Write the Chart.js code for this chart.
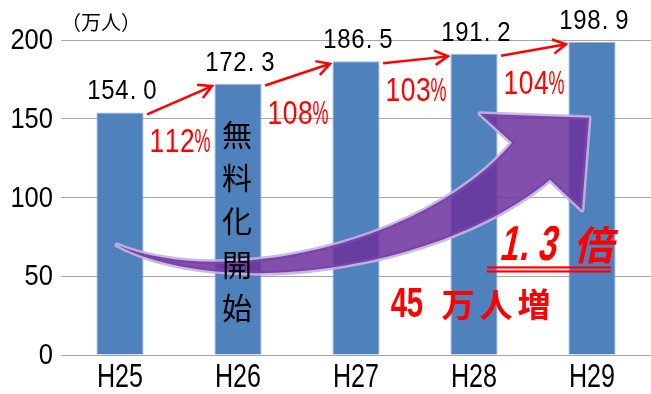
<!DOCTYPE html>
<html>
<head>
<meta charset="utf-8">
<script src="https://cdn.jsdelivr.net/npm/chart.js@4/dist/chart.umd.min.js"></script>
<style>
  html, body { margin: 0; padding: 0; background: #fff; }
  canvas { display: block; }
</style>
</head>
<body>
<canvas id="chart" width="651" height="394"></canvas>
<script>
const categories = ["H25", "H26", "H27", "H28", "H29"];
const visitors = [154.0, 172.3, 186.5, 191.2, 198.9];
const valueLabels = ["154.0", "172.3", "186.5", "191.2", "198.9"];
const growthLabels = ["112%", "108%", "103%", "104%"];
const unitLabel = "（万人）";
const freeStartLabel = "無料化開始";
const ratioLabel = "1.3 倍";
const increaseLabel = "45 万人増";

const LATIN = "'Liberation Sans', Arial, sans-serif";
const CJK = "'Noto Sans CJK JP', sans-serif";
const RED = "#ff0000";

// big curved arrow, in (category index, value) space
const SWOOSH = {
  tail: [-0.025, 69.8],
  upper: [[0.932, 41.2], [2.627, 73.0], [3.322, 134.7]],
  head: [[3.051, 153.2], [3.975, 150.6], [3.915, 92.1], [3.644, 111.2]],
  lower: [[2.712, 52.6], [0.847, 34.8]],
};

// the original uses a narrow gothic face; squeeze Liberation Sans to match
function drawScaled(ctx, text, x, y, font, sx, align, baseline) {
  ctx.save();
  ctx.font = font;
  ctx.fillStyle = "#000";
  ctx.textAlign = align;
  ctx.textBaseline = baseline;
  ctx.translate(x, y);
  ctx.scale(sx, 1);
  ctx.fillText(text, 0, 0);
  ctx.restore();
}

// draws text cell by cell so digits look like a fixed-pitch font
function drawCells(ctx, text, x0, baseline, o) {
  let x = x0;
  for (const ch of text) {
    const full = ch.charCodeAt(0) > 0x2000;
    const w = full ? o.full : o.cell;
    ctx.save();
    ctx.font = full ? o.cjkFont : o.font;
    const mw = ctx.measureText(ch).width;
    let s = full ? 1 : o.sx;
    if (!full && mw * s > w * 1.05) s = (w * 1.05) / mw;
    let cx = x + w / 2;
    if (ch === ".") cx = x + w * 0.3;
    ctx.translate(cx, baseline);
    if (o.skew) ctx.transform(1, 0, -o.skew, 1, 0, 0);
    ctx.scale(s, 1);
    ctx.fillStyle = o.color;
    ctx.textAlign = "center";
    ctx.textBaseline = "alphabetic";
    ctx.fillText(ch, 0, 0);
    ctx.restore();
    x += w;
  }
}

function drawArrow(ctx, x1, y1, x2, y2) {
  const a = Math.atan2(y2 - y1, x2 - x1);
  const len = 15, spread = 0.5;
  ctx.save();
  ctx.strokeStyle = RED;
  ctx.lineWidth = 2.5;
  ctx.beginPath();
  ctx.moveTo(x1, y1);
  ctx.lineTo(x2, y2);
  ctx.moveTo(x2 - len * Math.cos(a - spread), y2 - len * Math.sin(a - spread));
  ctx.lineTo(x2, y2);
  ctx.lineTo(x2 - len * Math.cos(a + spread), y2 - len * Math.sin(a + spread));
  ctx.stroke();
  ctx.restore();
}

const axisLabels = {
  id: "axisLabels",
  afterDraw(chart) {
    const { ctx, scales: { x, y } } = chart;
    for (const t of y.ticks) {
      drawScaled(ctx, String(t.value), y.right - 8, y.getPixelForValue(t.value) + 1,
        "29px " + LATIN, 0.88, "right", "middle");
    }
    categories.forEach((c, i) => {
      drawScaled(ctx, c, x.getPixelForValue(i), x.top + 32, "33.5px " + LATIN, 0.75, "center", "alphabetic");
    });
  },
};

const annotations = {
  id: "annotations",
  afterDatasetsDraw(chart) {
    const { ctx, scales: { x, y } } = chart;
    const P = (c, v) => [x.getPixelForValue(c), y.getPixelForValue(v)];

    // curved purple arrow
    const pts = (arr) => arr.map(p => P(p[0], p[1]));
    const t = P(...SWOOSH.tail);
    const up = pts(SWOOSH.upper);
    const hd = pts(SWOOSH.head);
    const lo = pts(SWOOSH.lower);
    ctx.save();
    ctx.beginPath();
    ctx.moveTo(t[0], t[1]);
    ctx.bezierCurveTo(up[0][0], up[0][1], up[1][0], up[1][1], up[2][0], up[2][1]);
    for (const p of hd) ctx.lineTo(p[0], p[1]);
    ctx.bezierCurveTo(lo[0][0], lo[0][1], lo[1][0], lo[1][1], t[0], t[1]);
    ctx.closePath();
    ctx.lineJoin = "round";
    ctx.strokeStyle = "rgba(196, 178, 226, 0.9)";
    ctx.lineWidth = 5;
    ctx.stroke();
    ctx.fillStyle = "rgba(108, 49, 158, 0.85)";
    ctx.fill();
    ctx.restore();

    // value labels above bars
    visitors.forEach((v, i) => {
      const cx = x.getPixelForValue(i) + 2;
      const by = y.getPixelForValue(v) - 13;
      drawCells(ctx, valueLabels[i], cx - 35, by, { cell: 14, sx: 0.84, font: "28.5px " + LATIN, color: "#000" });
    });

    // growth arrows + percentages
    growthLabels.forEach((lab, i) => {
      const [x1, y1] = P(i + 0.23, visitors[i] - 1.2);
      const [x2, y2] = P(i + 1 - 0.22, visitors[i + 1] - 1.6);
      drawArrow(ctx, x1, y1, x2, y2);
      drawCells(ctx, lab, x1 + 2, y1 + 38, { cell: 15.25, sx: 0.8, font: "33px " + LATIN, color: RED });
    });

    // unit label
    ctx.save();
    ctx.font = "20px " + CJK;
    ctx.fillStyle = "#000";
    ctx.textBaseline = "middle";
    ctx.textAlign = "left";
    ctx.fillText(unitLabel, x.left, y.top - 18);
    ctx.restore();

    // vertical label inside the H26 bar
    ctx.save();
    ctx.font = "30px " + CJK;
    ctx.fillStyle = "#000";
    ctx.textAlign = "center";
    ctx.textBaseline = "middle";
    const vx = x.getPixelForValue(1) - 1;
    const vy = y.getPixelForValue(140.1);
    [...freeStartLabel].forEach((ch, k) => ctx.fillText(ch, vx, vy + k * 43.3));
    ctx.restore();

    // 1.3 倍 with double underline
    const [rx, ry] = P(3.288, 60.1);
    drawCells(ctx, ratioLabel, rx - 9.5, ry, {
      cell: 19, full: 38, sx: 0.68, skew: 0.22,
      font: "bold 49px " + LATIN, cjkFont: "bold 40px " + CJK, color: RED,
    });
    ctx.save();
    ctx.fillStyle = RED;
    ctx.fillRect(rx - 21, ry + 6, 124, 2.2);
    ctx.fillRect(rx - 21, ry + 10, 124, 2.2);
    ctx.restore();

    // 45 万人増
    const [ix, iy] = P(2.305, 24.0);
    drawCells(ctx, increaseLabel, ix - 1, iy, {
      cell: 16, full: 38, sx: 0.7,
      font: "bold 42px " + LATIN, cjkFont: "bold 33px " + CJK, color: RED,
    });
  },
};

new Chart(document.getElementById("chart"), {
  type: "bar",
  data: {
    labels: categories,
    datasets: [{
      data: visitors,
      backgroundColor: "#4f81bd",
      borderColor: "#9ab7db",
      borderWidth: 1,
      categoryPercentage: 0.4,
      barPercentage: 1,
    }],
  },
  options: {
    responsive: false,
    animation: false,
    layout: { padding: { top: 40, right: 0, bottom: 0, left: 0 } },
    plugins: { legend: { display: false }, tooltip: { enabled: false } },
    scales: {
      x: {
        grid: { display: false },
        border: { display: false },
        ticks: { display: false },
        afterFit: (s) => { s.height = 39; },
      },
      y: {
        min: 0,
        max: 200,
        grid: { color: "#a6a6a6", drawTicks: false },
        border: { display: false },
        ticks: { display: false, stepSize: 50 },
        afterFit: (s) => { s.width = 61; },
      },
    },
  },
  plugins: [annotations, axisLabels],
});
</script>
</body>
</html>
